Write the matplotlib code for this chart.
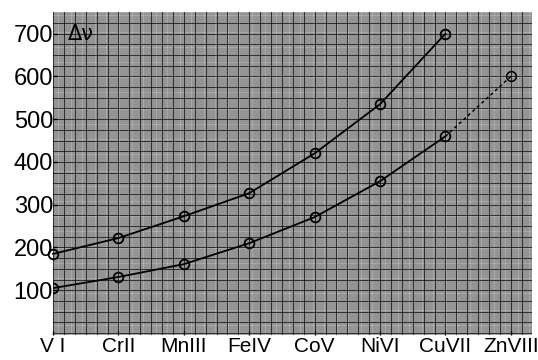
import numpy as np
import matplotlib.pyplot as plt

ions = ['V I', 'CrII', 'MnIII', 'FeIV', 'CoV', 'NiVI', 'CuVII', 'ZnVIII']
upper = [185, 222, 273, 327, 420, 535, 700]
lower = [105, 131, 161, 210, 271, 355, 460, 600]
yticks = [100, 200, 300, 400, 500, 600, 700]

plt.rcParams['font.family'] = ['Liberation Sans', 'DejaVu Sans']

fig = plt.figure(figsize=(5.38, 3.6), dpi=100)
ax = fig.add_axes([0.0985, 0.069, 0.89, 0.897])
ax.set_facecolor('#bcbcbc')

# graph paper
xmin, xmax, ymin, ymax = 0, 7.32, -5, 750
for y in np.arange(0, ymax, 5):
    ax.axhline(y, color='black', lw=0.35, alpha=0.45, zorder=0)
for x in np.arange(0, xmax, 1 / 30):
    ax.axvline(x, color='black', lw=0.35, alpha=0.45, zorder=0)
for y in np.arange(0, ymax, 25):
    ax.axhline(y, color='black', lw=0.7, alpha=0.7, zorder=0)
for x in np.arange(0, xmax, 1 / 6):
    ax.axvline(x, color='black', lw=0.7, alpha=0.7, zorder=0)

xs = np.arange(len(ions))
ax.plot(xs[:len(upper)], upper, color='black', lw=1.3, marker='o', ms=7,
        mfc='none', mec='black', mew=1.3, zorder=3, clip_on=False)
ax.plot(xs[:7], lower[:7], color='black', lw=1.3, marker='o', ms=7,
        mfc='none', mec='black', mew=1.3, zorder=3)
ax.plot(xs[6:], lower[6:], color='black', lw=1.1, ls=(0, (2, 2)), zorder=3)
ax.plot(xs[7], lower[7], marker='o', ms=7, mfc='none', mec='black', mew=1.1,
        ls='none', zorder=3)

ax.text(0.22, 700, 'Δν', fontsize=15, va='center', ha='left',
        family=['DejaVu Sans'])

ax.set_xlim(xmin, xmax)
ax.set_ylim(ymin, ymax)
ax.set_xticks(xs)
ax.set_xticklabels(ions, fontsize=15)
ax.set_yticks(yticks)
ax.set_yticklabels([str(v) for v in yticks], fontsize=17)
ax.tick_params(length=3, width=1, pad=0, direction='in')
ax.tick_params(axis='x', pad=1)
for s in ax.spines.values():
    s.set_visible(False)

fig.savefig('out.png', dpi=100)
